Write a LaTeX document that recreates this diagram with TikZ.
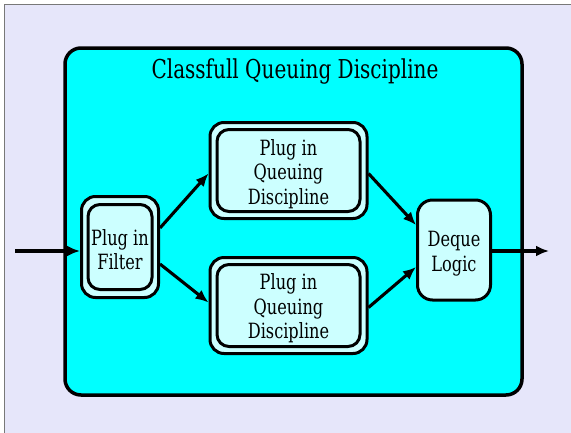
\documentclass[tikz,border=0pt]{standalone}
\usepackage{fontspec}
\setmainfont{DejaVu Serif}[FakeStretch=0.77]
\usetikzlibrary{arrows.meta,calc}
\definecolor{pagebg}{RGB}{230,230,250}
\definecolor{framegray}{RGB}{120,120,120}
\definecolor{boxcyan}{RGB}{0,255,255}
\definecolor{nodecyan}{RGB}{204,255,255}
\tikzset{
  shell/.style={draw=black, line width=3pt, fill=nodecyan, rounded corners=14pt,
    inner sep=0pt},
  core/.style={draw=black, line width=3pt, fill=nodecyan, rounded corners=12pt,
    inner sep=0pt},
  caption/.style={align=center, inner sep=0pt, font=\fontsize{21}{24.5}\selectfont},
  flow/.style={line width=3.1pt, -{Latex[length=13pt,width=11pt]}},
}
\begin{document}
\begin{tikzpicture}[x=1pt,y=-1pt]
  \useasboundingbox (0,0) rectangle (571,432);
  % page backdrop with its frame
  \fill[white] (0,0) rectangle (571,432);
  \fill[pagebg] (4,4) rectangle (572,433);
  \draw[framegray, line width=1pt] (4,433) -- (4,4) -- (572,4);

  % container
  \node[draw=black, line width=3.5pt, fill=boxcyan, rounded corners=16pt,
        minimum width=457pt, minimum height=347pt, inner sep=0pt]
        (cls) at (293.5,221.5) {};
  \node[font=\fontsize{26}{30}\selectfont] (title) at (295,71.5) {Classfull Queuing Discipline};

  % filter
  \node[shell, minimum width=77pt, minimum height=101pt] (filterout) at (120,247) {};
  \node[core, minimum width=64pt, minimum height=85pt] (filter) at (120,247) {};
  \node[caption] (filtertext) at ([yshift=-2.5pt]filter.center) {Plug in\\Filter};

  % queuing disciplines
  \node[shell, minimum width=157pt, minimum height=96pt] (qtopout) at (288.5,170.5) {};
  \node[core, minimum width=143pt, minimum height=82pt] (qtop) at (288.5,170.5) {};
  \node[caption] (qtoptext) at ([yshift=-3.5pt]qtop.center) {Plug in\\Queuing\\Discipline};
  \node[shell, minimum width=157pt, minimum height=96pt] (qbotout) at (288.5,305.5) {};
  \node[core, minimum width=143pt, minimum height=82pt] (qbot) at (288.5,305.5) {};
  \node[caption] (qbottext) at ([yshift=-3pt]qbot.center) {Plug in\\Queuing\\Discipline};

  % dequeue
  \node[core, rounded corners=15pt, minimum width=73pt, minimum height=100pt] (deque) at (454,250) {};
  \node[caption] (dequetext) at ([yshift=-3.5pt]deque.center) {Deque\\Logic};

  % flow
  \coordinate (in) at (15,251);
  \coordinate (out) at (549,251);
  \draw[flow] (in) -- (in -| filterout.west);
  \draw[flow] ([yshift=19pt]filterout.east) -- ([yshift=-3pt]qtopout.west);
  \draw[flow] ([yshift=-17pt]filterout.east) -- ([yshift=3pt]qbotout.west);
  \draw[flow] ([yshift=-3pt]qtopout.east) -- ([yshift=25pt]deque.west);
  \draw[flow] ([yshift=-2pt]qbotout.east) -- ([yshift=-17pt]deque.west);
  \draw[flow] (deque.east |- out) -- (out);
\end{tikzpicture}
\end{document}
